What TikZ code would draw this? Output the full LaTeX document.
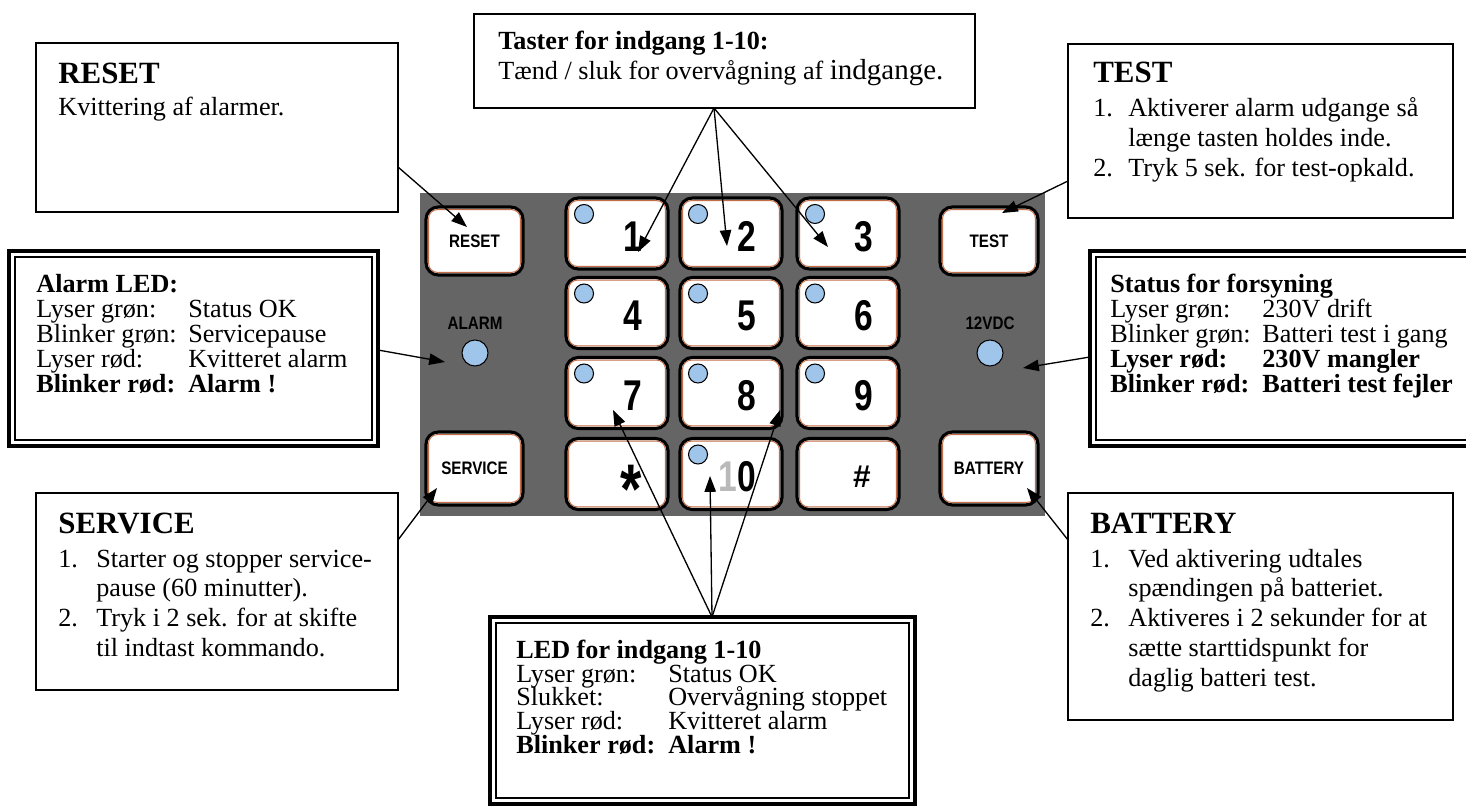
\documentclass[tikz,border=0pt]{standalone}
\usepackage{fontspec}
\usepackage{graphicx}
\setmainfont{Liberation Serif}
\newfontfamily\sansfont{Liberation Sans}
\usetikzlibrary{arrows.meta}
\definecolor{panelgray}{RGB}{102,101,101}
\definecolor{ledblue}{RGB}{160,197,235}
\definecolor{keyrim}{RGB}{196,110,72}
\newcommand\bodyfont{\fontsize{14.9}{17}\selectfont}
\newcommand\titlefont{\fontsize{17.6}{20}\selectfont\bfseries}
\newcommand\digitfont{\sansfont\bfseries\fontsize{24.5}{28}\selectfont}
\newcommand\lblfont{\sansfont\bfseries\fontsize{10.3}{12}\selectfont}
\newcommand\dg[1]{\scalebox{0.78}[1]{#1}}
\newcommand\lb[1]{\scalebox{0.84}[1]{#1}}
\newcommand\tb[1]{\makebox[3.04cm][l]{#1}}
\newcommand\nr[1]{\makebox[0.76cm][l]{#1}}
\newcommand\stack[2]{\vtop{\baselineskip=#1\relax\lineskiplimit=-50pt\lineskip=0pt\halign{##\hfil\cr#2\crcr}}}
\tikzset{
  keybox/.style={draw=black, line width=1.8pt, fill=white, rounded corners=7pt, inner sep=0pt, outer sep=0pt},
  keyrimline/.style={draw=keyrim, line width=0.55pt, rounded corners=5pt},
  led/.style={circle, draw=black, line width=0.6pt, fill=ledblue, inner sep=0pt, minimum size=0.38cm},
  bigled/.style={led, minimum size=0.52cm},
  digit/.style={font=\digitfont, inner sep=0pt},
  plabel/.style={font=\lblfont, inner sep=0pt},
  txt/.style={font=\bodyfont, inner sep=0pt, anchor=base west},
  ttl/.style={font=\titlefont, inner sep=0pt, anchor=base west},
  sbox/.style={draw=black, line width=1.1pt, fill=white, inner sep=0pt, outer sep=0pt, anchor=north west},
  dbox/.style={draw=black, line width=1.8pt, fill=white, inner sep=0pt, outer sep=0pt, anchor=north west},
  dinner/.style={draw=black, line width=0.8pt},
  arr/.style={draw=black, line width=0.75pt, -{Triangle[length=9pt,width=6.5pt]}},
}
\begin{document}
\begin{tikzpicture}[x=0.02cm,y=-0.02cm]
\useasboundingbox (0,0) rectangle (1466,807);
\clip (0,0) rectangle (1466,807);
\fill[white] (0,0) rectangle (1466,807);

% keypad panel
\node[fill=panelgray, minimum width=12.5cm, minimum height=6.46cm, anchor=north west, inner sep=0pt, outer sep=0pt] (panel) at (420,193) {};

% number keys with LEDs
\foreach \n/\cx/\cy in {1/617/233.5, 2/731/233.5, 3/848/233.5, 4/617/313, 5/731/313, 6/848/313, 7/617/393, 8/731/393, 9/848/393}{
  \node[keybox, minimum width=2.04cm, minimum height=1.42cm] (k\n) at (\cx,\cy) {};
  \draw[keyrimline] ([shift={(2.6,2.6)}]k\n.north west) rectangle ([shift={(-2.6,-2.6)}]k\n.south east);
  \node[led] (led\n) at ([shift={(18,16)}]k\n.north west) {};
  \node[digit] (lab\n) at ([shift={(16,3)}]k\n.center) {\dg{\n}};
}
% bottom row
\node[keybox, minimum width=2.04cm, minimum height=1.42cm] (kstar) at (617,474) {};
\draw[keyrimline] ([shift={(2.6,2.6)}]kstar.north west) rectangle ([shift={(-2.6,-2.6)}]kstar.south east);
\node[inner sep=0pt, font=\sansfont\bfseries\fontsize{40}{40}\selectfont, anchor=base] (labstar) at (631,513) {\dg{*}};

\node[keybox, minimum width=2.04cm, minimum height=1.42cm] (k10) at (731,474) {};
\draw[keyrimline] ([shift={(2.6,2.6)}]k10.north west) rectangle ([shift={(-2.6,-2.6)}]k10.south east);
\node[led] (led10) at ([shift={(18,16)}]k10.north west) {};
\node[digit] (lab10) at (737,477) {\dg{\textcolor{gray!55}{1}0}};

\node[keybox, minimum width=2.04cm, minimum height=1.42cm] (khash) at (848,474) {};
\draw[keyrimline] ([shift={(2.6,2.6)}]khash.north west) rectangle ([shift={(-2.6,-2.6)}]khash.south east);
\node[inner sep=0pt, font=\sansfont\bfseries\fontsize{18}{20}\selectfont] (labhash) at (862,477) {\#};

% side keys
\foreach \nm/\cx/\cy/\w/\h/\t in {kreset/474.5/241/1.94/1.36/RESET, ktest/989/241/1.96/1.36/TEST, kservice/474.5/468.5/1.94/1.46/SERVICE, kbattery/989/468.5/1.96/1.46/BATTERY}{
  \node[keybox, minimum width=\w cm, minimum height=\h cm] (\nm) at (\cx,\cy) {};
  \draw[keyrimline] ([shift={(2.6,2.6)}]\nm.north west) rectangle ([shift={(-2.6,-2.6)}]\nm.south east);
  \node[plabel] (\nm lab) at (\nm.center) {\lb{\t}};
}
% panel LEDs
\node[plabel] (alarmlab) at (475,323) {\lb{ALARM}};
\node[bigled] (alarmled) at (475,353) {};
\node[plabel] (vdclab) at (990,323) {\lb{12VDC}};
\node[bigled] (vdcled) at (990,353) {};

% callout boxes
\node[sbox, minimum width=7.24cm, minimum height=3.38cm] (resetbox) at (36,43) {};
\node[ttl] (resetttl) at (58,84) {RESET};
\node[txt] (resettxt) at (58,116) {Kvittering af alarmer.};

\node[sbox, minimum width=10.02cm, minimum height=1.88cm] (tasterbox) at (474,14) {};
\node[txt, font=\bodyfont\bfseries] (tasterttl) at (498,50) {Taster for indgang 1-10:};
\node[txt] (tastertxt) at (498,80) {Tænd / sluk for overvågning af {\fontsize{16.5}{18}\selectfont indgange.}};

\node[sbox, minimum width=7.70cm, minimum height=3.48cm] (testbox) at (1068,44) {};
\node[ttl] (testttl) at (1093,83) {TEST};
\node[txt] (testtxt) at (1093,117) {\stack{0.6cm}{\makebox[0.7cm][l]{1.}Aktiverer alarm udgange så\cr\hspace*{0.7cm}længe tasten holdes inde.\cr\makebox[0.7cm][l]{2.}Tryk 5 sek. for test-opkald.}};

\node[dbox, minimum width=7.38cm, minimum height=3.90cm] (alarmbox) at (9,251) {};
\draw[dinner] ([shift={(6,6)}]alarmbox.north west) rectangle ([shift={(-6,-6)}]alarmbox.south east);
\node[txt] (alarmtxt) at (36,293) {\stack{0.5cm}{\textbf{Alarm LED:}\cr\tb{Lyser grøn:}Status OK\cr\tb{Blinker grøn:}Servicepause\cr\tb{Lyser rød:}Kvitteret alarm\cr\tb{\textbf{Blinker rød:}}\textbf{Alarm !}}};

\node[dbox, minimum width=7.80cm, minimum height=3.90cm] (statusbox) at (1090,251) {};
\draw[dinner] ([shift={(6,6)}]statusbox.north west) rectangle ([shift={(-6,-6)}]statusbox.south east);
\node[txt] (statustxt) at (1110,293) {\stack{0.5cm}{\textbf{Status for forsyning}\cr\tb{Lyser grøn:}230V drift\cr\tb{Blinker grøn:}Batteri test i gang\cr\tb{\textbf{Lyser rød:}}\textbf{230V mangler}\cr\tb{\textbf{Blinker rød:}}\textbf{Batteri test fejler}}};

\node[sbox, minimum width=7.24cm, minimum height=3.94cm] (servicebox) at (36,493) {};
\node[ttl] (servicettl) at (58,533) {SERVICE};
\node[txt] (servicetxt) at (58,567) {\stack{0.6cm}{\nr{1.}Starter og stopper service-\cr\hspace*{0.76cm}pause (60 minutter).\cr\nr{2.}Tryk i 2 sek. for at skifte\cr\hspace*{0.76cm}til indtast kommando.}};

\node[sbox, minimum width=7.70cm, minimum height=4.54cm] (batterybox) at (1068,493) {};
\node[ttl] (batteryttl) at (1090,533) {BATTERY};
\node[txt] (batterytxt) at (1090,567) {\stack{0.6cm}{\nr{1.}Ved aktivering udtales\cr\hspace*{0.76cm}spændingen på batteriet.\cr\nr{2.}Aktiveres i 2 sekunder for at\cr\hspace*{0.76cm}sætte starttidspunkt for\cr\hspace*{0.76cm}daglig batteri test.}};

\node[dbox, minimum width=8.50cm, minimum height=3.74cm] (ledbox) at (490,617) {};
\draw[dinner] ([shift={(6,6)}]ledbox.north west) rectangle ([shift={(-6,-6)}]ledbox.south east);
\node[txt] (ledtxt) at (516,658) {\stack{0.48cm}{\textbf{LED for indgang 1-10}\cr\tb{Lyser grøn:}Status OK\cr\tb{Slukket:}Overvågning stoppet\cr\tb{Lyser rød:}Kvitteret alarm\cr\tb{\textbf{Blinker rød:}}\textbf{Alarm !}}};

% connector end points
\coordinate (resetS) at (398,167);  \coordinate (resetT) at (467,227);
\coordinate (tApex) at (714,108);
\coordinate (tOne) at (638,252);  \coordinate (tTwo) at (727,246);  \coordinate (tThree) at (828,247);
\coordinate (testS) at (1068,181); \coordinate (testT) at (1002,213);
\coordinate (alS) at (378,350);    \coordinate (alT) at (445,362);
\coordinate (vdcS) at (1090,357);  \coordinate (vdcT) at (1023,368);
\coordinate (svS) at (398,540);    \coordinate (svT) at (437,488);
\coordinate (btS) at (1068,540);   \coordinate (btT) at (1027,488);
\coordinate (lApex) at (712,617);
\coordinate (lSeven) at (613,410); \coordinate (lEight) at (780,410); \coordinate (lTen) at (710,476);

\draw[arr] (resetS) -- (resetT);
\draw[arr] (tApex) -- (tOne);
\draw[arr] (tApex) -- (tTwo);
\draw[arr] (tApex) -- (tThree);
\draw[arr] (testS) -- (testT);
\draw[arr] (alS) -- (alT);
\draw[arr] (vdcS) -- (vdcT);
\draw[arr] (svS) -- (svT);
\draw[arr] (btS) -- (btT);
\draw[arr] (lApex) -- (lSeven);
\draw[arr] (lApex) -- (lEight);
\draw[arr] (lApex) -- (lTen);
\end{tikzpicture}
\end{document}
